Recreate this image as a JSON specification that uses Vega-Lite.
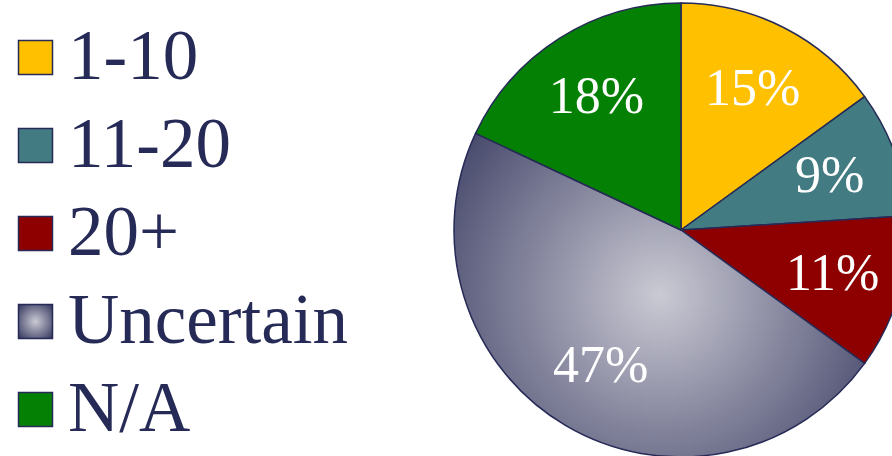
{
  "$schema": "https://vega.github.io/schema/vega-lite/v6.json",
  "width": 456,
  "height": 460,
  "autosize": "none",
  "padding": {"left": 453, "top": 0, "right": 0, "bottom": 0},
  "background": "white",
  "data": {
    "values": [
      {"k": 1, "category": "1-10", "value": 15, "label": "15%"},
      {"k": 2, "category": "11-20", "value": 9, "label": "9%"},
      {"k": 3, "category": "20+", "value": 11, "label": "11%"},
      {"k": 4, "category": "Uncertain", "value": 47, "label": "47%"},
      {"k": 5, "category": "N/A", "value": 18, "label": "18%"}
    ]
  },
  "encoding": {
    "theta": {"field": "value", "type": "quantitative", "stack": true},
    "order": {"field": "k", "type": "quantitative"}
  },
  "layer": [
    {
      "mark": {"type": "arc", "outerRadius": 227, "stroke": "#262a56", "strokeWidth": 1.5},
      "encoding": {
        "color": {
          "field": "category",
          "type": "nominal",
          "scale": {
            "domain": ["1-10", "11-20", "20+", "Uncertain", "N/A"],
            "range": [
              "#ffc000",
              "#437b82",
              "#8e0000",
              {"expr": "{gradient: 'radial', x1: 0.5, y1: 0.5, r1: 0, x2: 0.5, y2: 0.5, r2: 0.72, stops: [{offset: 0, color: '#cacad4'}, {offset: 1, color: '#2e3058'}]}"},
              "#048004"
            ]
          },
          "legend": {
            "title": null,
            "orient": "none",
            "legendX": -453,
            "legendY": 22,
            "direction": "vertical",
            "padding": 0,
            "symbolType": "square",
            "symbolSize": 1156,
            "symbolOpacity": 1,
            "labelFont": "Liberation Serif",
            "labelFontSize": 71,
            "labelColor": "#262a56",
            "labelOffset": -3,
            "labelLimit": 0,
            "rowPadding": 16,
            "encode": {
              "symbols": {
                "update": {
                  "stroke": {"value": "#262a56"},
                  "strokeWidth": {"value": 1.5}
                }
              }
            }
          }
        }
      }
    },
    {
      "mark": {"type": "text", "radius": 158, "font": "Liberation Serif", "fontSize": 52, "fill": "white", "align": "center", "baseline": "middle"},
      "encoding": {
        "text": {"field": "label", "type": "nominal"}
      }
    }
  ]
}
